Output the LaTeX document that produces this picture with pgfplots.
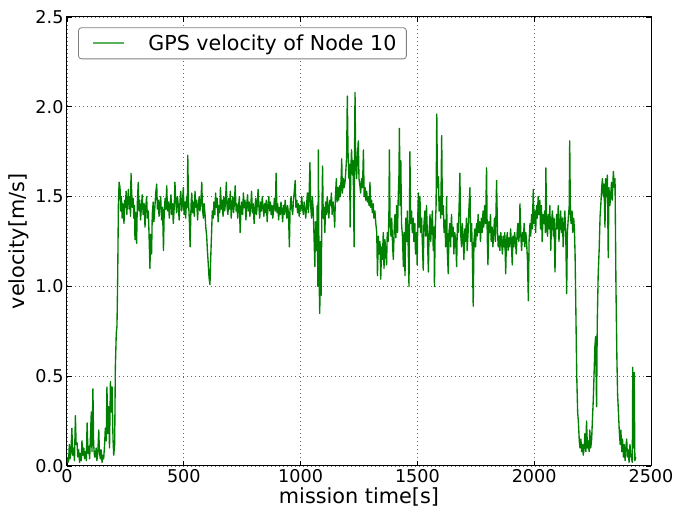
\documentclass[border=0pt]{standalone}
\usepackage{fontspec}
\setmainfont{DejaVu Sans}
\usepackage{pgfplots}
\usepackage{pgfplotstable}
\pgfplotsset{compat=1.18}
\definecolor{mplgreen}{rgb}{0,0.5,0}
\definecolor{legendgreen}{rgb}{0.35,0.7,0.35}
\pgfplotstableread{
t v
0 0.05
4 0.02
7 0.03
10 0.12
13 0.04
17 0.08
21 0.21
24 0.06
28 0.10
32 0.03
36 0.28
39 0.12
43 0.13
46 0.05
50 0.09
54 0.02
57 0.07
61 0.03
64 0.14
68 0.06
72 0.10
75 0.04
79 0.08
83 0.03
86 0.24
90 0.07
93 0.11
97 0.04
100 0.15
104 0.30
107 0.08
111 0.43
114 0.12
118 0.05
121 0.05
125 0.10
128 0.03
132 0.08
136 0.20
139 0.07
143 0.04
146 0.09
150 0.02
154 0.06
157 0.04
161 0.12
164 0.21
168 0.14
171 0.44
175 0.18
178 0.33
182 0.10
186 0.47
190 0.30
193 0.44
197 0.15
200 0.06
204 0.12
207 0.55
211 0.74
214 0.78
217 1.05
220 1.45
223 1.58
227 1.55
230 1.42
233 1.50
236 1.38
239 1.46
241 1.41
244 1.35
247 1.48
250 1.44
253 1.53
256 1.40
259 1.47
263 1.54
266 1.43
269 1.50
272 1.39
274 1.63
277 1.52
280 1.44
283 1.49
286 1.38
289 1.45
291 1.26
294 1.41
298 1.24
301 1.46
305 1.58
308 1.42
311 1.48
315 1.37
319 1.45
322 1.51
326 1.40
330 1.46
334 1.33
337 1.44
341 1.50
344 1.38
348 1.42
351 1.30
355 1.10
358 1.29
362 1.18
365 1.40
369 1.47
372 1.36
376 1.44
380 1.52
384 1.57
387 1.43
391 1.48
394 1.39
398 1.46
401 1.50
405 1.37
409 1.44
413 1.20
416 1.41
420 1.49
423 1.43
427 1.56
430 1.42
434 1.47
438 1.38
441 1.45
445 1.51
448 1.40
452 1.46
455 1.35
459 1.44
462 1.58
466 1.47
469 1.41
473 1.50
477 1.44
480 1.37
484 1.48
487 1.53
491 1.42
494 1.46
498 1.55
501 1.40
505 1.47
508 1.38
512 1.50
515 1.44
517 1.73
520 1.48
524 1.36
527 1.22
531 1.45
534 1.52
538 1.41
541 1.47
545 1.39
548 1.53
552 1.44
555 1.48
559 1.37
562 1.45
566 1.50
569 1.42
573 1.47
577 1.58
580 1.43
584 1.38
587 1.46
591 1.40
594 1.33
598 1.28
601 1.20
605 1.12
608 1.05
612 1.01
615 1.15
619 1.30
622 1.42
626 1.38
629 1.47
633 1.40
636 1.52
640 1.44
643 1.49
647 1.36
650 1.45
654 1.41
657 1.55
661 1.43
664 1.48
668 1.39
671 1.50
675 1.42
678 1.46
682 1.58
685 1.44
689 1.40
692 1.49
696 1.43
699 1.53
703 1.38
706 1.45
710 1.50
713 1.41
717 1.47
720 1.56
724 1.42
727 1.46
731 1.38
734 1.44
738 1.50
741 1.30
745 1.43
748 1.47
752 1.40
755 1.52
759 1.44
762 1.48
766 1.37
769 1.45
773 1.51
776 1.42
780 1.47
783 1.39
787 1.45
790 1.53
794 1.41
797 1.46
801 1.35
804 1.43
808 1.49
811 1.40
815 1.46
818 1.54
822 1.43
825 1.38
829 1.47
832 1.42
836 1.50
839 1.44
843 1.39
846 1.46
850 1.41
853 1.48
857 1.36
860 1.44
864 1.50
867 1.42
871 1.47
874 1.40
878 1.45
881 1.38
885 1.44
888 1.49
892 1.42
895 1.63
899 1.41
902 1.46
906 1.37
909 1.44
913 1.40
916 1.47
920 1.42
923 1.36
927 1.45
930 1.40
934 1.48
937 1.43
941 1.38
944 1.45
948 1.41
952 1.22
955 1.43
959 1.50
962 1.44
966 1.40
969 1.47
973 1.53
977 1.59
980 1.44
984 1.48
987 1.41
991 1.46
994 1.39
998 1.45
1001 1.42
1005 1.50
1008 1.44
1012 1.40
1015 1.47
1019 1.43
1022 1.38
1026 1.46
1029 1.52
1033 1.41
1036 1.49
1040 1.69
1043 1.45
1047 1.38
1050 1.50
1054 1.43
1057 1.30
1061 1.11
1064 1.36
1068 1.20
1071 1.45
1074 1.00
1076 1.76
1079 1.05
1082 0.85
1085 1.25
1088 0.95
1091 1.40
1094 1.67
1097 1.38
1100 1.44
1104 1.30
1107 1.47
1111 1.40
1114 1.50
1118 1.43
1121 1.38
1125 1.48
1128 1.45
1132 1.52
1135 1.40
1139 1.47
1142 1.43
1146 1.33
1149 1.50
1153 1.60
1156 1.47
1160 1.55
1163 1.48
1167 1.56
1170 1.50
1174 1.62
1176 1.71
1179 1.52
1183 1.60
1186 1.55
1190 1.58
1193 1.63
1197 1.72
1200 2.06
1203 1.75
1207 1.60
1210 1.68
1212 1.33
1215 1.65
1218 1.76
1222 1.62
1225 1.70
1229 1.22
1231 1.75
1233 2.08
1236 1.68
1240 1.60
1243 1.72
1247 1.81
1250 1.60
1254 1.56
1257 1.52
1261 1.60
1265 1.55
1269 1.76
1272 1.50
1276 1.55
1279 1.48
1283 1.53
1286 1.47
1290 1.50
1293 1.45
1297 1.58
1300 1.44
1304 1.48
1307 1.41
1311 1.46
1314 1.38
1318 1.42
1322 1.35
1326 1.30
1329 1.06
1333 1.28
1336 1.18
1340 1.25
1343 1.04
1347 1.22
1350 1.15
1354 1.30
1357 1.10
1361 1.26
1364 1.20
1368 1.12
1371 1.30
1375 1.25
1378 1.40
1380 1.76
1383 1.35
1387 1.28
1390 1.38
1394 1.22
1397 1.15
1401 1.33
1404 1.40
1408 1.27
1411 1.45
1415 1.30
1418 1.50
1421 1.62
1423 1.88
1426 1.45
1429 1.70
1432 1.35
1436 1.28
1440 1.11
1443 1.30
1447 1.06
1450 1.38
1454 1.25
1457 1.42
1461 1.20
1464 1.00
1468 1.75
1471 1.35
1475 1.42
1478 1.30
1482 1.38
1485 1.25
1489 1.35
1492 1.18
1496 1.30
1499 1.12
1502 1.40
1504 1.52
1507 1.33
1511 1.50
1514 1.30
1518 1.38
1521 1.25
1525 1.09
1528 1.35
1532 1.42
1535 1.28
1539 1.45
1542 1.32
1547 1.08
1550 1.30
1554 1.40
1557 1.25
1561 1.35
1564 1.42
1568 1.20
1571 1.33
1573 1.00
1576 1.30
1580 1.45
1583 1.96
1586 1.55
1590 1.61
1593 1.42
1597 1.50
1600 1.38
1604 1.84
1607 1.40
1611 1.45
1614 1.30
1618 1.37
1621 1.22
1625 1.50
1628 1.20
1632 1.07
1635 1.30
1639 1.35
1642 1.22
1646 1.40
1649 1.28
1653 1.33
1656 1.18
1660 1.30
1664 1.25
1668 1.11
1671 1.35
1675 1.30
1678 1.42
1682 1.63
1685 1.30
1689 1.22
1692 1.35
1696 1.28
1699 1.15
1703 1.32
1706 1.25
1710 1.38
1713 1.20
1717 1.30
1720 1.42
1725 1.55
1728 1.25
1732 1.35
1735 1.20
1739 0.89
1742 1.25
1746 1.32
1749 1.22
1753 1.35
1756 1.28
1760 1.40
1763 1.30
1767 1.36
1770 1.25
1774 1.38
1777 1.30
1781 1.42
1784 1.33
1788 1.45
1792 1.35
1796 1.66
1799 1.28
1802 1.12
1806 1.36
1809 1.30
1813 1.40
1816 1.25
1820 1.33
1823 1.22
1827 1.30
1830 1.38
1834 1.25
1837 1.45
1839 1.59
1843 1.30
1846 1.22
1850 1.28
1853 1.20
1857 1.30
1860 1.25
1864 1.18
1867 1.28
1871 1.22
1874 1.30
1878 1.07
1881 1.25
1885 1.30
1888 1.20
1892 1.27
1895 1.22
1899 1.32
1902 1.25
1906 1.12
1909 1.28
1913 1.22
1916 1.30
1920 1.25
1923 1.18
1927 1.30
1930 1.35
1934 1.25
1937 1.30
1939 1.46
1943 1.28
1946 1.20
1950 1.30
1953 1.25
1957 1.35
1960 1.22
1964 1.30
1967 1.26
1971 1.15
1975 0.92
1978 1.25
1982 1.35
1985 1.28
1989 1.40
1992 1.32
1996 1.54
1999 1.35
2003 1.42
2006 1.30
2010 1.45
2013 1.38
2017 1.50
2020 1.40
2024 1.48
2027 1.32
2031 1.45
2034 1.25
2038 1.40
2041 1.35
2045 1.42
2048 1.30
2050 1.66
2053 1.35
2057 1.28
2060 1.40
2064 1.32
2067 1.45
2071 1.20
2074 1.35
2078 1.42
2082 1.28
2085 1.38
2089 1.08
2092 1.30
2096 1.40
2099 1.32
2103 1.45
2106 1.25
2110 1.35
2113 1.42
2117 1.30
2121 1.38
2124 1.22
2128 1.35
2131 1.42
2135 1.30
2139 0.96
2142 1.30
2146 1.38
2150 1.45
2152 1.81
2155 1.40
2158 1.35
2162 1.42
2165 1.30
2169 1.38
2172 1.32
2175 1.18
2178 0.90
2182 0.51
2186 0.30
2189 0.25
2193 0.14
2196 0.10
2200 0.15
2203 0.08
2207 0.12
2210 0.06
2214 0.10
2217 0.18
2221 0.08
2224 0.25
2228 0.10
2231 0.14
2235 0.08
2238 0.20
2242 0.10
2246 0.15
2249 0.25
2253 0.37
2256 0.50
2260 0.67
2263 0.72
2267 0.33
2270 0.80
2274 1.07
2278 1.20
2282 1.39
2285 1.45
2289 1.55
2292 1.60
2296 1.50
2299 1.57
2303 1.33
2306 1.60
2310 1.50
2313 1.62
2317 1.16
2320 1.55
2324 1.45
2327 1.50
2331 1.58
2334 1.48
2336 1.55
2339 1.64
2343 1.55
2346 1.60
2350 1.00
2354 0.60
2357 0.40
2361 0.29
2364 0.20
2368 0.12
2371 0.20
2375 0.08
2378 0.15
2382 0.05
2385 0.12
2389 0.03
2392 0.10
2396 0.15
2399 0.05
2403 0.09
2406 0.02
2410 0.12
2413 0.06
2417 0.04
2420 0.02
2422 0.55
2425 0.10
2428 0.52
2431 0.03
2435 0.05
}\gps
\begin{document}
\begin{tikzpicture}
\begin{axis}[
  scale only axis,
  width=584pt, height=449pt,
  xmin=0, xmax=2500, ymin=0, ymax=2.5,
  xtick={0,500,1000,1500,2000,2500},
  ytick={0,0.5,1,1.5,2,2.5},
  /pgf/number format/assume math mode=true,
  xticklabel style={/pgf/number format/1000 sep={}},
  yticklabel style={/pgf/number format/.cd, fixed, fixed zerofill, precision=1},
  tick label style={font=\fontsize{17.6}{20}\selectfont, black},
  label style={font=\fontsize{20.8}{24}\selectfont},
  xlabel={mission time[s]},
  ylabel={velocity[m/s]},
  xlabel style={at={(axis description cs:0.5,-0.069)}, anchor=center},
  ylabel style={at={(axis description cs:-0.082,0.5)}, anchor=center},
  tick align=inside,
  major tick length=5pt,
  tick style={black, line width=0.8pt},
  axis line style={black, line width=1pt},
  grid=major,
  major grid style={black!60, line width=0.8pt, dash pattern=on 1pt off 3pt},
  legend style={at={(axis description cs:0.019,0.977)}, anchor=north west,
    draw=black!50, rounded corners=3pt, line width=0.8pt,
    font=\fontsize{20.6}{24}\selectfont, inner xsep=10pt, inner ysep=7pt,
    nodes={inner sep=0pt},
    /tikz/every odd column/.append style={column sep=23pt}},
  legend cell align=left,
  legend image code/.code={\path[draw=none, fill=none] (0pt,-6pt) rectangle (0pt,6pt); \draw[draw=legendgreen, line width=1.8pt] (5pt,0pt) -- (36pt,0pt);},
]
\addplot[mplgreen, line width=1.35pt, line join=round] table[x=t,y=v]{\gps};
\addlegendentry{GPS velocity of Node 10}
\coordinate (ll) at (rel axis cs:0,0);
\coordinate (ur) at (rel axis cs:1,1);
\end{axis}
\pgfresetboundingbox
\path ([shift={(-67pt,-52pt)}]ll) rectangle ([shift={(22pt,17pt)}]ur);
\end{tikzpicture}
\end{document}
